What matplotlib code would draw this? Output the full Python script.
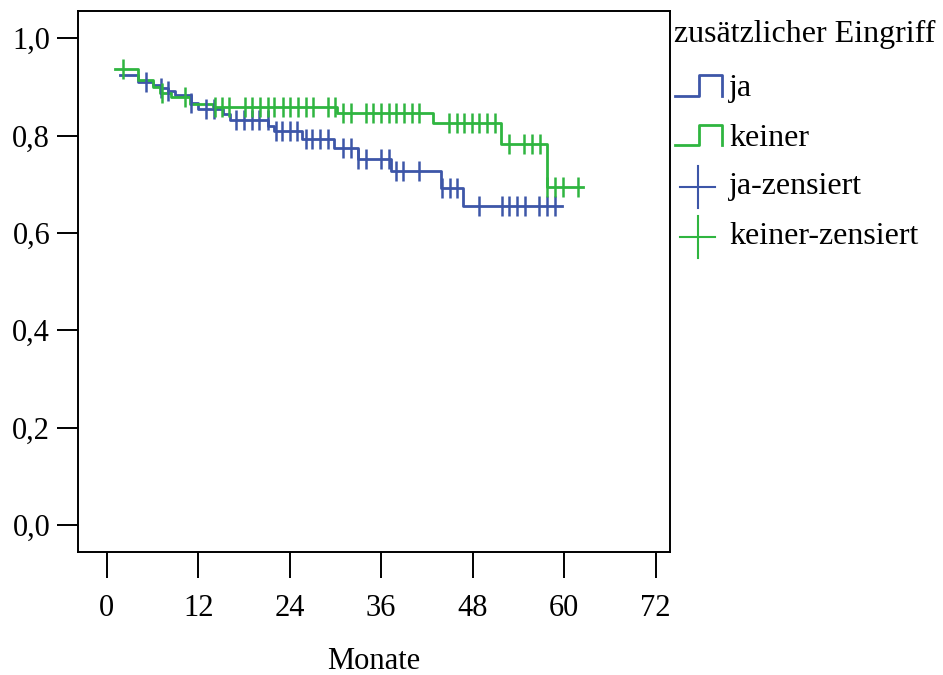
import numpy as np
import matplotlib
matplotlib.use("Agg")
import matplotlib.pyplot as plt
from matplotlib.lines import Line2D

plt.rcParams['font.family'] = ['Liberation Serif', 'DejaVu Serif']

# ---- data ----
# group "ja": step start times and survival levels
ja_t = [1.8, 4.1, 6.1, 7.0, 8.1, 9.0, 11.1, 12.0, 15.3, 16.2, 21.2, 22.0,
        25.6, 29.8, 33.0, 37.3, 43.8, 46.8]
ja_s = [0.924, 0.910, 0.904, 0.898, 0.891, 0.883, 0.867, 0.854, 0.844, 0.833,
        0.820, 0.809, 0.793, 0.775, 0.751, 0.727, 0.693, 0.656]
ja_end = 59.7
ja_cens = [5.1, 7.1, 8.1, 11.1, 13.0, 14.1, 17.0, 18.0, 19.1, 20.0, 21.1, 22.2,
           23.0, 24.0, 25.0, 26.1, 27.0, 28.0, 29.0, 31.0, 32.0, 33.0, 34.0,
           36.0, 37.0, 37.9, 38.9, 41.0, 44.0, 45.0, 46.0, 48.9, 51.8, 52.8,
           53.8, 54.9, 56.7, 57.8, 58.8]

# group "keiner"
keiner_t = [1.1, 4.1, 6.1, 7.0, 8.5, 10.9, 14.0, 30.2, 42.8, 51.7, 57.7]
keiner_s = [0.936, 0.915, 0.900, 0.887, 0.880, 0.865, 0.859, 0.846, 0.825,
            0.782, 0.694]
keiner_end = 62.5
keiner_cens = [2.2, 7.3, 10.3, 14.2, 15.1, 16.1, 18.1, 19.1, 20.1, 21.1, 22.0,
               23.1, 24.1, 25.1, 26.1, 27.1, 29.0, 29.9, 31.0, 32.0, 34.0, 35.0,
               36.0, 37.0, 38.0, 39.0, 40.0, 41.0, 44.9, 45.9, 46.9, 47.9, 48.9,
               49.9, 50.9, 52.8, 54.8, 55.8, 56.8, 57.8, 58.8, 59.8, 61.8]

x_ticks = [0, 12, 24, 36, 48, 60, 72]
y_ticks = [0.0, 0.2, 0.4, 0.6, 0.8, 1.0]
y_ticklabels = ["0,0", "0,2", "0,4", "0,6", "0,8", "1,0"]
x_label = "Monate"
legend_title = "zusätzlicher Eingriff"
legend_labels = ["ja", "keiner", "ja-zensiert", "keiner-zensiert"]

BLUE = "#3d56a8"
GREEN = "#2fb540"

W, H = 943, 675
fig = plt.figure(figsize=(W / 100, H / 100), dpi=100)
ax = fig.add_axes([78 / W, 1 - 551.7 / H, (670 - 78) / W, (551.7 - 10.7) / H])


def draw_group(t, s, end, cens, color):
    tt = np.array(list(t) + [end])
    ss = np.array(list(s) + [s[-1]])
    ax.step(tt, ss, where='post', color=color, lw=2.0, zorder=3)
    c = np.array(cens)
    idx = np.searchsorted(np.array(t), c, side='right') - 1
    idx = np.clip(idx, 0, len(s) - 1)
    cy = np.array(s)[idx]
    ax.plot(c, cy, ls='none', marker='|', ms=14.5, mew=1.8, color=color, zorder=4)


draw_group(ja_t, ja_s, ja_end, ja_cens, BLUE)
draw_group(keiner_t, keiner_s, keiner_end, keiner_cens, GREEN)

ax.set_xlim(-3.76, 73.9)
ax.set_ylim(-0.0549, 1.0567)
ax.set_xticks(x_ticks)
ax.set_xticklabels([str(v) for v in x_ticks])
ax.set_yticks(y_ticks)
ax.set_yticklabels(y_ticklabels)
ax.tick_params(axis='y', length=15, width=1.4, labelsize=22, pad=5, color='black')
ax.tick_params(axis='x', length=19, width=1.4, labelsize=22, pad=11.5, color='black')
for sp in ax.spines.values():
    sp.set_linewidth(1.4)
    sp.set_color('black')
ax.set_xlabel(x_label, fontsize=22, labelpad=17.5)

# ---- legend (drawn in pixel coordinates) ----
lg = fig.add_axes([0, 0, 1, 1], facecolor='none')
lg.set_xlim(0, W)
lg.set_ylim(H, 0)
lg.axis('off')
lg.text(674, 34, legend_title, fontsize=23, va='center', ha='left')
for (yl, yh, col, lab) in [(96, 75, BLUE, legend_labels[0]),
                           (145, 125, GREEN, legend_labels[1])]:
    lg.add_line(Line2D([675, 698.7, 698.7, 722.3, 722.3],
                       [yl, yl, yh, yh, yl], color=col, lw=2.0))
    lg.text(729, (yl + yh) / 2 + 3, lab, fontsize=23, va='center', ha='left')
for (yc, col, lab) in [(186.7, BLUE, legend_labels[2]),
                       (236.7, GREEN, legend_labels[3])]:
    lg.add_line(Line2D([680, 715], [yc, yc], color=col, lw=1.5))
    lg.add_line(Line2D([698, 698], [yc - 21, yc + 21], color=col, lw=1.5))
    lg.text(729, yc, lab, fontsize=23, va='center', ha='left')

fig.savefig("out.png", dpi=100)
